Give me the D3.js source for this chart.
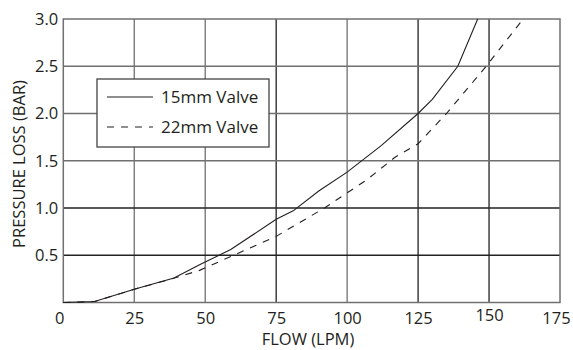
<!DOCTYPE html>
<html>
<head>
<meta charset="utf-8">
<script src="https://cdn.jsdelivr.net/npm/d3@7"></script>
<style>
  body { margin: 0; background: #fff; }
  text { font-family: "Open Sans", sans-serif; fill: #231f20; }
</style>
</head>
<body>
<div class="chart"></div>
<script>
// data
var flow15 = [0, 11, 25, 39, 48, 59, 75, 81, 90, 100, 112, 125, 130, 139, 146];
var loss15 = [0, 0.01, 0.14, 0.26, 0.40, 0.56, 0.88, 0.97, 1.18, 1.38, 1.66, 2.0, 2.15, 2.5, 3.0];
var flow22 = [0, 11, 25, 37, 48, 60, 75, 92, 107, 117, 125, 135, 149, 162];
var loss22 = [0, 0.01, 0.14, 0.24, 0.34, 0.50, 0.70, 1.0, 1.30, 1.54, 1.68, 2.0, 2.5, 3.0];
var xTicks = [0, 25, 50, 75, 100, 125, 150, 175];
var yTicks = [0.5, 1.0, 1.5, 2.0, 2.5, 3.0];
var seriesNames = ["15mm Valve", "22mm Valve"];

var svgWidth = 573;
var svgHeight = 350;
var margin = { top: 19, right: 13, bottom: 47.5, left: 63.3 };
var width = svgWidth - margin.left - margin.right;
var height = svgHeight - margin.top - margin.bottom;

var svg = d3.select(".chart")
  .append("svg")
  .attr("width", svgWidth)
  .attr("height", svgHeight);

var chartGroup = svg.append("g")
  .attr("transform", `translate(${margin.left}, ${margin.top})`);

var x = d3.scaleLinear().domain([0, 175]).range([0, width]);
var y = d3.scaleLinear().domain([0, 3]).range([height, 0]);

// grid - some lines are darker in the original
var darkX = [75, 125, 150];
var darkY = [0.5, 1.0];

chartGroup.selectAll(".vgrid")
  .data(xTicks.slice(1, -1))
  .enter()
  .append("line")
  .attr("x1", d => x(d)).attr("x2", d => x(d))
  .attr("y1", 0).attr("y2", height)
  .attr("stroke", d => darkX.includes(d) ? "#222" : "#707070")
  .attr("stroke-width", 1.3);

chartGroup.selectAll(".hgrid")
  .data(yTicks.slice(0, -1))
  .enter()
  .append("line")
  .attr("x1", 0).attr("x2", width)
  .attr("y1", d => y(d)).attr("y2", d => y(d))
  .attr("stroke", d => darkY.includes(d) ? "#222" : "#707070")
  .attr("stroke-width", 1.3);

// frame
chartGroup.append("rect")
  .attr("width", width)
  .attr("height", height)
  .attr("fill", "none")
  .attr("stroke", "#707070")
  .attr("stroke-width", 1.5);

// axes (labels only)
var bottomAxis = d3.axisBottom(x).tickValues(xTicks).tickSize(0).tickPadding(10).tickFormat(d3.format("d"));
var leftAxis = d3.axisLeft(y).tickValues(yTicks).tickSize(0).tickPadding(5).tickFormat(d3.format(".1f"));

var xAxisG = chartGroup.append("g")
  .attr("transform", `translate(0, ${height})`)
  .call(bottomAxis);
var yAxisG = chartGroup.append("g").call(leftAxis);

[xAxisG, yAxisG].forEach(function (g) {
  g.select(".domain").remove();
  g.selectAll("text")
    .attr("fill", "#231f20")
    .style("font-family", "'Open Sans', sans-serif")
    .style("font-size", "16.5px");
});
xAxisG.selectAll("text").filter(d => d === 0).attr("dx", -4);
xAxisG.selectAll("text").filter(d => d === 150).attr("dy", "0.52em");
xAxisG.selectAll("text").filter(d => d === 175).attr("dx", -4);

// lines
var line = d3.line()
  .x(d => x(d[0]))
  .y(d => y(d[1]));

var data15 = flow15.map((f, i) => [f, loss15[i]]);
var data22 = flow22.map((f, i) => [f, loss22[i]]);

chartGroup.append("path")
  .datum(data15)
  .attr("d", line)
  .attr("fill", "none")
  .attr("stroke", "#231f20")
  .attr("stroke-width", 1.1);

chartGroup.append("path")
  .datum(data22)
  .attr("d", line)
  .attr("fill", "none")
  .attr("stroke", "#231f20")
  .attr("stroke-width", 1.1)
  .attr("stroke-dasharray", "7,7");

// legend
var legend = svg.append("g").attr("transform", "translate(97, 79)");
legend.append("rect")
  .attr("width", 172)
  .attr("height", 68)
  .attr("fill", "#fff")
  .attr("stroke", "#444")
  .attr("stroke-width", 1.3);

seriesNames.forEach(function (name, i) {
  var ly = 18 + i * 30;
  legend.append("line")
    .attr("x1", 10).attr("x2", 56)
    .attr("y1", ly).attr("y2", ly)
    .attr("stroke", "#231f20")
    .attr("stroke-width", 1.1)
    .attr("stroke-dasharray", i === 1 ? "7,7" : null);
  legend.append("text")
    .attr("x", 64)
    .attr("y", ly)
    .attr("dy", "0.35em")
    .style("font-size", "17px")
    .text(name);
});

// axis titles
svg.append("text")
  .attr("x", 308)
  .attr("y", 345)
  .attr("text-anchor", "middle")
  .style("font-size", "16.5px")
  .text("FLOW (LPM)");

svg.append("text")
  .attr("transform", "rotate(-90)")
  .attr("x", -164)
  .attr("y", 25)
  .attr("text-anchor", "middle")
  .style("font-size", "16.5px")
  .text("PRESSURE LOSS (BAR)");
</script>
</body>
</html>
